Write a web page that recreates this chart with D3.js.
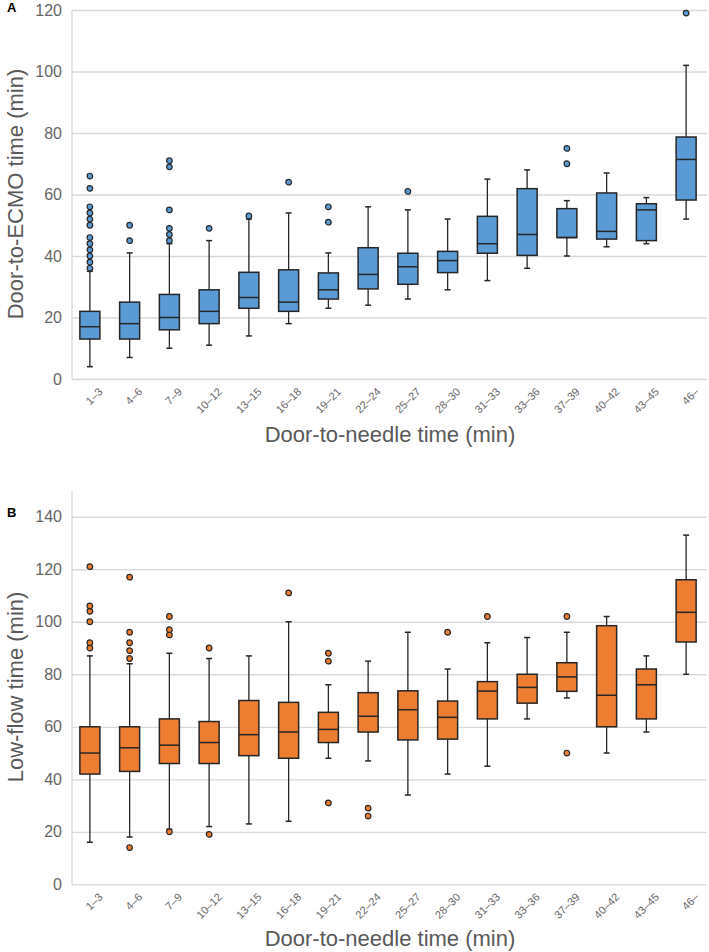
<!DOCTYPE html>
<html><head><meta charset="utf-8">
<script src="https://cdn.jsdelivr.net/npm/d3@7"></script>
<style>body{margin:0;background:#fff;}svg{display:block;font-family:"Liberation Sans",Arial,sans-serif;}</style>
</head><body>
<script>
const categories = ["1–3","4–6","7–9","10–12","13–15","16–18","19–21","22–24","25–27","28–30","31–33","33–36","37–39","40–42","43–45","46–"];

// Panel A: Door-to-ECMO time
const ecmoLow    = [4, 7, 10, 11, 14, 18, 23, 24, 26, 29, 32, 36, 40, 43, 44, 52];
const ecmoQ1     = [13, 13, 16, 18, 23, 22, 26, 29.3, 30.8, 34.6, 40.9, 40.2, 46, 45.5, 45, 58.2];
const ecmoMedian = [17, 18, 20, 22, 26.5, 25, 29, 34, 36.5, 38.5, 44, 47, 46, 48, 55, 71.4];
const ecmoQ3     = [22, 25, 27.5, 29, 34.7, 35.5, 34.5, 42.7, 40.9, 41.5, 52.9, 61.9, 55.4, 60.5, 57, 78.7];
const ecmoHigh   = [35, 41, 44, 45, 52, 54, 41, 56, 55, 52, 65, 68, 58, 67, 59, 102];
const ecmoOutliers = [
  [36,38,40,42,44,46,50,52,54,56,62,66],
  [45,50],
  [45,47,49,55,69,71],
  [49],
  [53],
  [64],
  [51,56],
  [],
  [61],
  [],
  [],
  [],
  [70,75],
  [],
  [],
  [119]
];
const ecmoTicks = [0,20,40,60,80,100,120];

// Panel B: Low-flow time
const flowLow    = [16, 18, 21, 22, 23, 24, 48, 47, 34, 42, 45, 63, 71, 50, 58, 80];
const flowQ1     = [42, 43, 46, 46, 49, 48, 54, 58, 55, 55.3, 63, 69, 73.5, 60, 63, 92.3];
const flowMedian = [50, 52, 53, 54, 57, 58, 59, 64, 66.5, 63.6, 73.6, 75, 79, 72, 76, 103.6];
const flowQ3     = [60, 60, 63, 62, 70, 69.3, 65.5, 73, 73.7, 69.8, 77.2, 80, 84.4, 98.5, 82, 116];
const flowHigh   = [87, 84, 88, 86, 87, 100, 76, 85, 96, 82, 92, 94, 96, 102, 87, 133];
const flowOutliers = [
  [90,92,100,104,106,121],
  [14,86,89,92,96,117],
  [20,95,97,102],
  [19,90],
  [],
  [111],
  [31,85,88],
  [26,29],
  [],
  [96],
  [102],
  [],
  [50,102],
  [],
  [],
  []
];
const flowTicks = [0,20,40,60,80,100,120,140];

const W = 709, H = 952;
const svg = d3.select("body").append("svg").attr("width", W).attr("height", H);

const x = d3.scaleBand().domain(categories).range([70, 706]).paddingInner(0).paddingOuter(0);
const boxW = 20;

function panel(cfg) {
  const y = d3.scaleLinear().domain(cfg.domain).range([cfg.bottom, cfg.top]);
  const g = svg.append("g");
  // gridlines
  g.append("g").attr("transform", "translate(72,0)")
    .call(d3.axisLeft(y).tickValues(cfg.ticks).tickSize(-(707-72)).tickFormat(""))
    .call(a => a.select(".domain").remove())
    .call(a => a.selectAll("line").attr("stroke", "#d9d9d9").attr("stroke-width", 1.3));
  // axis line
  g.append("line").attr("x1", 72).attr("x2", 72).attr("y1", y(cfg.domain[1])).attr("y2", y(0))
    .attr("stroke", "#d9d9d9").attr("stroke-width", 1.3);
  // tick labels
  g.append("g").attr("transform", "translate(72,0)")
    .call(d3.axisLeft(y).tickValues(cfg.ticks).tickSize(0).tickPadding(10))
    .call(a => a.select(".domain").remove())
    .call(a => a.selectAll("text").attr("fill", "#666666").attr("font-size", 16).attr("font-family", "Liberation Sans, Arial, sans-serif"));
  // x tick labels
  g.append("g").selectAll("text").data(categories).join("text")
    .attr("transform", d => `translate(${x(d) + x.bandwidth()/2 + 8},${y(0) + 8}) rotate(-45)`)
    .attr("text-anchor", "end").attr("dy", "0.7em")
    .attr("font-size", 11).attr("fill", "#666666").text(d => d);
  // axis titles
  g.append("text").attr("x", 390).attr("y", cfg.xTitleY).attr("text-anchor", "middle")
    .attr("font-size", 22).attr("fill", "#595959").text("Door-to-needle time (min)");
  g.append("text").attr("transform", `translate(23,${cfg.yTitleY}) rotate(-90)`).attr("text-anchor", "middle")
    .attr("font-size", 22).attr("fill", "#595959").text(cfg.yTitle);
  // panel letter
  g.append("text").attr("x", 7).attr("y", cfg.letterY).attr("font-size", 13).attr("font-weight", "bold")
    .attr("fill", "#000").text(cfg.letter);

  const stroke = "#262626";
  const boxes = g.append("g").selectAll("g").data(categories).join("g")
    .attr("transform", d => `translate(${x(d) + x.bandwidth()/2},0)`);
  boxes.each(function(d, i) {
    const b = d3.select(this);
    b.append("line").attr("x1", 0).attr("x2", 0).attr("y1", y(cfg.high[i])).attr("y2", y(cfg.q3[i]))
      .attr("stroke", stroke).attr("stroke-width", 1.3);
    b.append("line").attr("x1", 0).attr("x2", 0).attr("y1", y(cfg.q1[i])).attr("y2", y(cfg.low[i]))
      .attr("stroke", stroke).attr("stroke-width", 1.3);
    b.append("line").attr("x1", -3).attr("x2", 3).attr("y1", y(cfg.high[i])).attr("y2", y(cfg.high[i]))
      .attr("stroke", stroke).attr("stroke-width", 1.5);
    b.append("line").attr("x1", -3).attr("x2", 3).attr("y1", y(cfg.low[i])).attr("y2", y(cfg.low[i]))
      .attr("stroke", stroke).attr("stroke-width", 1.5);
    b.append("rect").attr("x", -boxW/2).attr("width", boxW)
      .attr("y", y(cfg.q3[i])).attr("height", y(cfg.q1[i]) - y(cfg.q3[i]))
      .attr("fill", cfg.color).attr("stroke", stroke).attr("stroke-width", 1.5);
    b.append("line").attr("x1", -boxW/2).attr("x2", boxW/2).attr("y1", y(cfg.median[i])).attr("y2", y(cfg.median[i]))
      .attr("stroke", stroke).attr("stroke-width", 1.5);
    b.selectAll("circle").data(cfg.outliers[i]).join("circle")
      .attr("cx", 0).attr("cy", v => y(v)).attr("r", 2.8)
      .attr("fill", cfg.color).attr("stroke", stroke).attr("stroke-width", 1.2);
  });
}

panel({domain:[0,120], top:10, bottom:379, ticks:ecmoTicks, low:ecmoLow, q1:ecmoQ1, median:ecmoMedian, q3:ecmoQ3, high:ecmoHigh,
  outliers:ecmoOutliers, color:"#5b9bd5", yTitle:"Door-to-ECMO time (min)", yTitleY:194, xTitleY:442, letter:"A", letterY:12});
panel({domain:[0,150], top:490.5, bottom:884.3, ticks:flowTicks, low:flowLow, q1:flowQ1, median:flowMedian, q3:flowQ3, high:flowHigh,
  outliers:flowOutliers, color:"#ed7d31", yTitle:"Low-flow time (min)", yTitleY:687, xTitleY:946, letter:"B", letterY:517});
</script>
</body></html>
